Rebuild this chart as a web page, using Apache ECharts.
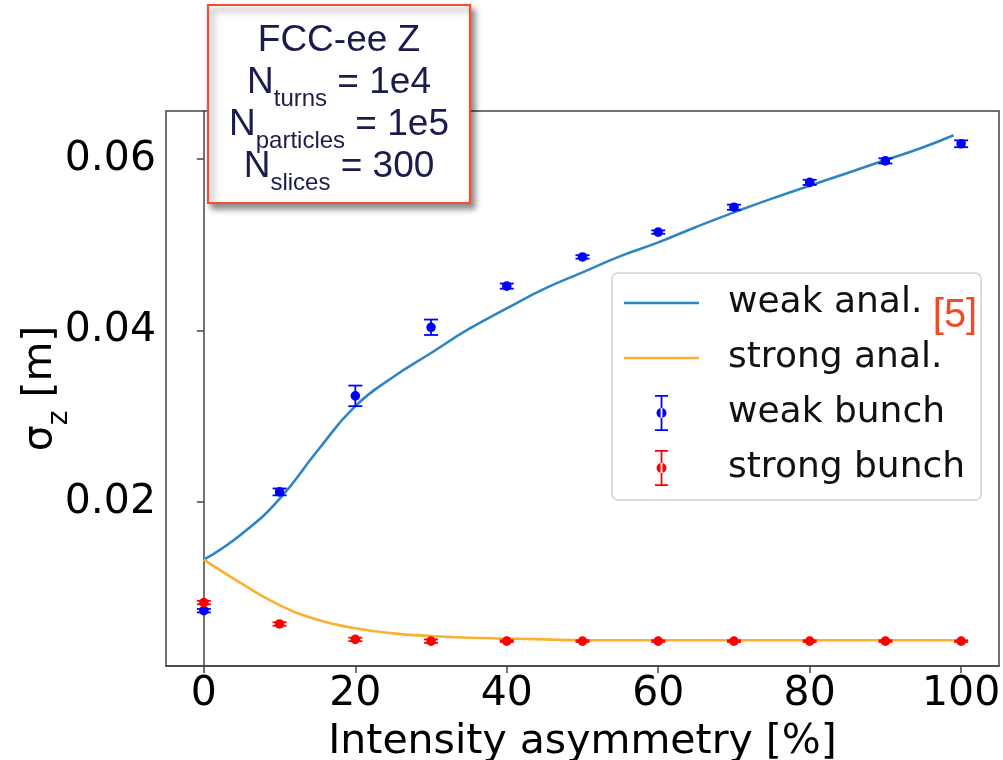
<!DOCTYPE html>
<html>
<head>
<meta charset="utf-8">
<script src="https://cdn.jsdelivr.net/npm/echarts@6/dist/echarts.min.js"></script>
<style>
  html, body { margin: 0; padding: 0; background: #fff; }
  #chart { width: 1003px; height: 760px; }
</style>
</head>
<body>
<div id="chart"></div>
<script>
// ---- data ----
const bunchX = [0, 10, 20, 30, 40, 50, 60, 70, 80, 90, 100];
const weakBunch = [0.00735, 0.0212, 0.0324, 0.0404, 0.0452, 0.0486, 0.0515, 0.0544, 0.0573, 0.0598, 0.0618];
const weakErr   = [0.0002, 0.0004, 0.0012, 0.0009, 0.0003, 0.0002, 0.0002, 0.0003, 0.0003, 0.0003, 0.0004];
const strongBunch = [0.0083, 0.0058, 0.0040, 0.0038, 0.0038, 0.0038, 0.0038, 0.0038, 0.0038, 0.0038, 0.0038];
const strongErr   = [0.0002, 0.0002, 0.0002, 0.0002, 0.0001, 0.0001, 0.0001, 0.0001, 0.0001, 0.0001, 0.0001];

const analX = [0, 5, 10, 15, 20, 25, 30, 35, 40, 45, 50, 55, 60, 65, 70, 75, 80, 85, 90, 95, 99];
const weakAnal = [0.0133, 0.0163, 0.0204, 0.0260, 0.0312, 0.0346, 0.0374, 0.0402, 0.0426, 0.0449, 0.0468,
                  0.0487, 0.0503, 0.0521, 0.0538, 0.0554, 0.0569, 0.0584, 0.0599, 0.0614, 0.0628];
const strongAnal = [0.0133, 0.0105, 0.0080, 0.0063, 0.0053, 0.0047, 0.0044, 0.0042, 0.0041, 0.0040, 0.0039,
                    0.0039, 0.0039, 0.0039, 0.0039, 0.0039, 0.0039, 0.0039, 0.0039, 0.0039, 0.0039];

const xTicks = [0, 20, 40, 60, 80, 100];
const yTicks = [0.02, 0.04, 0.06];
const seriesNames = ['weak anal.', 'strong anal.', 'weak bunch', 'strong bunch'];

// ---- build ----
const zip = (xs, ys) => xs.map((x, i) => [x, ys[i]]);
const zip3 = (xs, ys, es) => xs.map((x, i) => [x, ys[i], es[i]]);

function errRender(color) {
  return function (params, api) {
    const x = api.value(0), y = api.value(1), e = api.value(2);
    const c = api.coord([x, y]);
    const t = api.coord([x, y + e]);
    const b = api.coord([x, y - e]);
    const cap = 7;
    const st = { stroke: color, lineWidth: 1.8 };
    return {
      type: 'group',
      children: [
        { type: 'line', shape: { x1: c[0], y1: t[1], x2: c[0], y2: b[1] }, style: st },
        { type: 'line', shape: { x1: c[0] - cap, y1: t[1], x2: c[0] + cap, y2: t[1] }, style: st },
        { type: 'line', shape: { x1: c[0] - cap, y1: b[1], x2: c[0] + cap, y2: b[1] }, style: st },
        { type: 'circle', shape: { cx: c[0], cy: c[1], r: 4.8 }, style: { fill: color } }
      ]
    };
  };
}

const errIcon = 'path://M0,0Z M75,36Z M31,0H44V1.8H31Z M36.6,0H38.4V36H36.6Z M31,34.2H44V36H31Z ' +
  'M32.5,18A5,5 0 1,0 42.5,18A5,5 0 1,0 32.5,18Z';
const lineIcon = 'path://M0,16.7H75V19.3H0Z';

const axisFont = 'DejaVu Sans';
const annoColor = '#1b1b4d';
const sub = { fontFamily: 'Liberation Sans', fontSize: 24, fill: annoColor, verticalAlign: 'top', lineHeight: 24, padding: [23, 0, 0, 0] };
const main = { fontFamily: 'Liberation Sans', fontSize: 37, fill: annoColor, verticalAlign: 'top', lineHeight: 42 };

function annoLine(text, y) {
  return {
    type: 'text', x: 339, y: y, z: 110,
    style: {
      text: text, align: 'center', verticalAlign: 'top',
      fontFamily: 'Liberation Sans', fontSize: 37, fill: annoColor,
      rich: { m: main, s: sub }
    }
  };
}

const chart = echarts.init(document.getElementById('chart'), null, { renderer: 'canvas' });
chart.setOption({
  backgroundColor: '#ffffff',
  animation: false,
  grid: {
    left: 166, right: 4, top: 111, bottom: 94,
    show: true, borderColor: '#444', borderWidth: 1.5, backgroundColor: 'transparent',
    containLabel: false, outerBoundsMode: 'none'
  },
  xAxis: {
    type: 'value', min: -5, max: 105,
    name: 'Intensity asymmetry [%]', nameLocation: 'middle', nameGap: 56, nameMoveOverlap: false,
    nameTextStyle: { fontFamily: axisFont, fontSize: 41, color: '#000' },
    axisLine: { show: true, lineStyle: { color: '#444', width: 1.5 } },
    axisTick: { show: true, length: 7, customValues: xTicks, lineStyle: { color: '#444', width: 1.5 } },
    axisLabel: { customValues: xTicks, fontFamily: axisFont, fontSize: 41, color: '#000', margin: 8 },
    splitLine: { show: false }
  },
  yAxis: {
    type: 'value', min: 0.0009, max: 0.06562,
    name: '{a|σ}{s|z}{a| [m]}', nameLocation: 'middle', nameGap: 100, nameRotate: 90, nameMoveOverlap: false,
    nameTextStyle: {
      rich: {
        a: { fontFamily: axisFont, fontSize: 41, color: '#000', verticalAlign: 'top', lineHeight: 46 },
        s: { fontFamily: axisFont, fontSize: 28, color: '#000', verticalAlign: 'top', lineHeight: 28, padding: [26, 0, 0, 0] }
      }
    },
    axisLine: { show: true, lineStyle: { color: '#444', width: 1.5 } },
    axisTick: { show: true, length: 7, customValues: yTicks, lineStyle: { color: '#444', width: 1.5 } },
    axisLabel: {
      customValues: yTicks, fontFamily: axisFont, fontSize: 41, color: '#000', margin: 10,
      formatter: v => v.toFixed(2)
    },
    splitLine: { show: false }
  },
  legend: {
    orient: 'vertical', left: 612, top: 273,
    padding: [12, 16, 14, 12],
    itemWidth: 75, itemHeight: 36, itemGap: 19,
    backgroundColor: 'rgba(255,255,255,0.85)',
    borderColor: '#d0d0d0', borderWidth: 1.5, borderRadius: 6,
    textStyle: { fontFamily: axisFont, fontSize: 36, color: '#111', lineHeight: 36, padding: [0, 0, 0, 24] },
    data: [
      { name: seriesNames[0], icon: lineIcon },
      { name: seriesNames[1], icon: lineIcon },
      { name: seriesNames[2], icon: errIcon },
      { name: seriesNames[3], icon: errIcon }
    ]
  },
  series: [
    {
      name: seriesNames[0], type: 'line', data: zip(analX, weakAnal),
      symbol: 'none', smooth: 0.5,
      lineStyle: { color: '#2f84c2', width: 2.6 }, itemStyle: { color: '#2f84c2' }, z: 3
    },
    {
      name: seriesNames[1], type: 'line', data: zip(analX, strongAnal),
      symbol: 'none', smooth: 0.5,
      lineStyle: { color: '#fbb030', width: 2.6 }, itemStyle: { color: '#fbb030' }, z: 3
    },
    {
      name: seriesNames[2], type: 'custom', data: zip3(bunchX, weakBunch, weakErr),
      renderItem: errRender('#0000ff'), itemStyle: { color: '#0000ff' }, z: 4,
      encode: { x: 0, y: 1 }
    },
    {
      name: seriesNames[3], type: 'custom', data: zip3(bunchX, strongBunch, strongErr),
      renderItem: errRender('#ff0000'), itemStyle: { color: '#ff0000' }, z: 5,
      encode: { x: 0, y: 1 }
    }
  ],
  graphic: [
    {
      type: 'rect', shape: { x: 208, y: 5, width: 262, height: 198 },
      style: { fill: '#fff', stroke: '#f0502f', lineWidth: 2.2, shadowBlur: 6, shadowOffsetX: 4, shadowOffsetY: 5, shadowColor: 'rgba(0,0,0,0.45)' },
      z: 100
    },
    annoLine('{m|FCC-ee Z}', 22),
    annoLine('{m|N}{s|turns}{m| = 1e4}', 64),
    annoLine('{m|N}{s|particles}{m| = 1e5}', 106),
    annoLine('{m|N}{s|slices}{m| = 300}', 148),
    {
      type: 'text', x: 955, y: 316, z: 120,
      style: { text: '[5]', fontFamily: 'Liberation Sans', fontSize: 40, fill: '#f04a28', align: 'center', verticalAlign: 'middle' }
    }
  ]
});
</script>
</body>
</html>
